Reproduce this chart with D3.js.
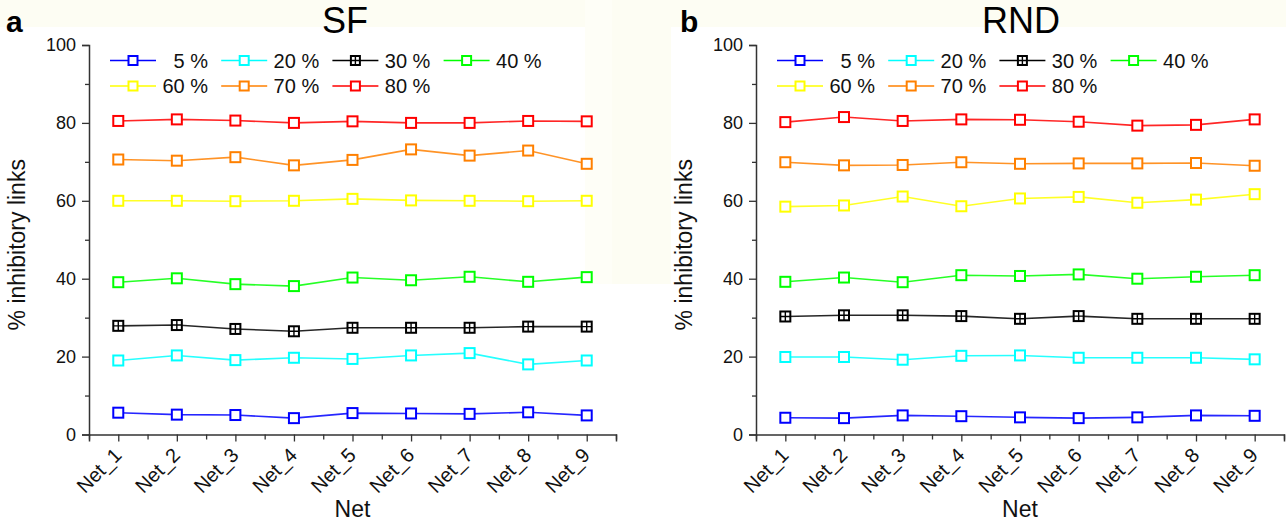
<!DOCTYPE html>
<html>
<head>
<meta charset="utf-8">
<script src="https://cdn.jsdelivr.net/npm/d3@7"></script>
<style>
  html, body { margin: 0; padding: 0; background: #ffffff; }
  svg { display: block; font-family: Arial, "Liberation Sans", sans-serif; }
</style>
</head>
<body>
<svg id="chart" width="1286" height="523"></svg>
<script>
// Categories and legend entries
const nets = ["Net_1", "Net_2", "Net_3", "Net_4", "Net_5", "Net_6", "Net_7", "Net_8", "Net_9"];
const levels = ["5 %", "20 %", "30 %", "40 %", "60 %", "70 %", "80 %"];
const levelColors = ["#0000ff", "#00ffff", "#000000", "#00ff00", "#ffff00", "#ff8000", "#ff0000"];
const yTicks = [0, 20, 40, 60, 80, 100];

// Scale-free networks (panel a)
const sf5  = [5.6, 5.1, 5.0, 4.2, 5.5, 5.4, 5.3, 5.7, 4.9];
const sf20 = [19.0, 20.3, 19.1, 19.7, 19.4, 20.3, 20.9, 18.0, 19.0];
const sf30 = [27.9, 28.1, 27.1, 26.5, 27.4, 27.4, 27.4, 27.7, 27.7];
const sf40 = [39.1, 40.1, 38.6, 38.1, 40.3, 39.6, 40.5, 39.2, 40.4];
const sf60 = [60.0, 60.0, 59.9, 60.0, 60.5, 60.1, 60.0, 59.9, 60.0];
const sf70 = [70.6, 70.3, 71.2, 69.1, 70.5, 73.2, 71.6, 72.9, 69.5];
const sf80 = [80.5, 80.9, 80.6, 80.0, 80.4, 80.0, 80.0, 80.5, 80.4];

// Random networks (panel b)
const rnd5  = [4.3, 4.2, 4.9, 4.7, 4.4, 4.2, 4.4, 4.9, 4.8];
const rnd20 = [19.9, 19.9, 19.2, 20.2, 20.3, 19.7, 19.7, 19.7, 19.3];
const rnd30 = [30.3, 30.6, 30.6, 30.4, 29.7, 30.4, 29.7, 29.7, 29.7];
const rnd40 = [39.2, 40.3, 39.1, 40.9, 40.7, 41.1, 40.0, 40.5, 40.9];
const rnd60 = [58.5, 58.8, 61.1, 58.6, 60.6, 61.0, 59.5, 60.3, 61.7];
const rnd70 = [69.9, 69.1, 69.2, 69.9, 69.5, 69.6, 69.6, 69.7, 69.0];
const rnd80 = [80.2, 81.5, 80.5, 80.9, 80.8, 80.3, 79.3, 79.5, 80.9];

const panels = [
  { letter: "a", title: "SF",  series: [sf5, sf20, sf30, sf40, sf60, sf70, sf80],
    x0: 89, x1: 616, titleX: 345, letterX: 6 },
  { letter: "b", title: "RND", series: [rnd5, rnd20, rnd30, rnd40, rnd60, rnd70, rnd80],
    x0: 756, x1: 1284, titleX: 1021, letterX: 680 }
];

const svg = d3.select("#chart");
const yTop = 45, yBottom = 434.5;
const axisColor = "#333333";
const font = "Arial, 'Liberation Sans', sans-serif";

// faint cream paper tone around the top and between the panels
svg.append("rect").attr("x", 0).attr("y", 0).attr("width", 1286).attr("height", 27).attr("fill", "#fdfdf3");
svg.append("rect").attr("x", 612).attr("y", 0).attr("width", 59).attr("height", 284).attr("fill", "#fdfdf3");
svg.append("rect").attr("x", 585).attr("y", 0).attr("width", 27).attr("height", 284).attr("fill", "#fefef7");

panels.forEach(p => {
  const g = svg.append("g");
  const idx = nets.map((_, i) => i + 1);
  const x = d3.scaleLinear().domain([0.5, nets.length + 0.5]).range([p.x0, p.x1]);
  const y = d3.scaleLinear().domain([0, 100]).range([yBottom, yTop]);

  // panel letter and title
  g.append("text").attr("x", p.letterX).attr("y", 32).attr("font-size", 30)
    .attr("font-weight", "bold").attr("fill", "#000").text(p.letter);
  g.append("text").attr("x", p.titleX).attr("y", 33).attr("font-size", 36)
    .attr("text-anchor", "middle").attr("fill", "#000").text(p.title);

  // y axis: major ticks with labels, minor ticks between
  const yAxis = d3.axisLeft(y).tickValues(yTicks).tickSize(7).tickPadding(6).tickFormat(d3.format("d"));
  const ya = g.append("g").attr("transform", `translate(${p.x0},0)`).call(yAxis);
  const yMinor = d3.axisLeft(y).tickValues([10, 30, 50, 70, 90]).tickSize(4).tickFormat("");
  const ym = g.append("g").attr("transform", `translate(${p.x0},0)`).call(yMinor);
  ym.select(".domain").remove();

  // x axis: ticks at every net and at half steps
  const xAxis = d3.axisBottom(x).tickValues(idx).tickSize(7).tickFormat(i => nets[i - 1]);
  const xa = g.append("g").attr("transform", `translate(0,${yBottom})`).call(xAxis);
  const halfTicks = d3.range(0.5, nets.length + 1, 1);
  const xMinor = d3.axisBottom(x).tickValues(halfTicks).tickSize(5).tickFormat("");
  const xm = g.append("g").attr("transform", `translate(0,${yBottom})`).call(xMinor);
  xm.select(".domain").remove();

  [ya, ym, xa, xm].forEach(a => {
    a.selectAll("path.domain").attr("stroke", axisColor).attr("stroke-width", 1.5);
    a.selectAll(".tick line").attr("stroke", axisColor).attr("stroke-width", 1.3);
  });
  ya.selectAll(".tick text").attr("font-size", 18).attr("fill", "#111").attr("font-family", font);
  xa.selectAll(".tick text")
    .attr("font-size", 20).attr("fill", "#111").attr("font-family", font)
    .attr("text-anchor", "end")
    .attr("x", 0).attr("y", 0).attr("dy", 0)
    .attr("transform", "translate(4,22) rotate(-45)");

  // axis titles
  g.append("text")
    .attr("transform", `translate(${p.x0 - 64},${(yTop + yBottom) / 2 + 5}) rotate(-90)`)
    .attr("text-anchor", "middle").attr("font-size", 23).attr("fill", "#111")
    .text("% inhibitory links");
  g.append("text").attr("x", (p.x0 + p.x1) / 2).attr("y", 517)
    .attr("text-anchor", "middle").attr("font-size", 23).attr("fill", "#111").text("Net");

  // series lines and square markers
  const line = d3.line().x((d, i) => x(i + 1)).y(d => y(d));
  p.series.forEach((vals, s) => {
    const col = levelColors[s];
    g.append("path").datum(vals).attr("d", line)
      .attr("fill", "none").attr("stroke", col).attr("stroke-width", 1.6).attr("stroke-opacity", 0.85);
    const m = g.append("g").selectAll("g").data(vals).join("g")
      .attr("transform", (d, i) => `translate(${x(i + 1)},${y(d)})`);
    drawMarker(m, col, levels[s] === "30 %", 10);
  });

  // legend: two rows, four columns
  const colStep = 111.2;
  const legendX = p.x0 + 21;
  levels.forEach((lab, s) => {
    const row = s < 4 ? 0 : 1;
    const col = s < 4 ? s : s - 4;
    const lx = legendX + col * colStep;
    const ly = row === 0 ? 60.5 : 86;
    const lg = g.append("g").attr("transform", `translate(${lx},${ly})`);
    lg.append("line").attr("x1", 0).attr("x2", 46).attr("y1", 0).attr("y2", 0)
      .attr("stroke", levelColors[s]).attr("stroke-width", 1.6);
    const mk = lg.append("g").attr("transform", "translate(23,0)");
    drawMarker(mk, levelColors[s], lab === "30 %", 9);
    lg.append("text").attr("x", 98).attr("y", 7).attr("text-anchor", "end")
      .attr("font-size", 20).attr("fill", "#111").text(lab);
  });
});

function drawMarker(sel, col, crossed, size) {
  const h = size / 2;
  sel.append("rect").attr("x", -h).attr("y", -h).attr("width", size).attr("height", size)
    .attr("fill", "#ffffff").attr("stroke", col).attr("stroke-width", 2);
  if (crossed) {
    sel.append("path").attr("d", `M0,${-h}V${h}M${-h},0H${h}`)
      .attr("stroke", col).attr("stroke-width", 1.4);
  }
}
</script>
</body>
</html>
